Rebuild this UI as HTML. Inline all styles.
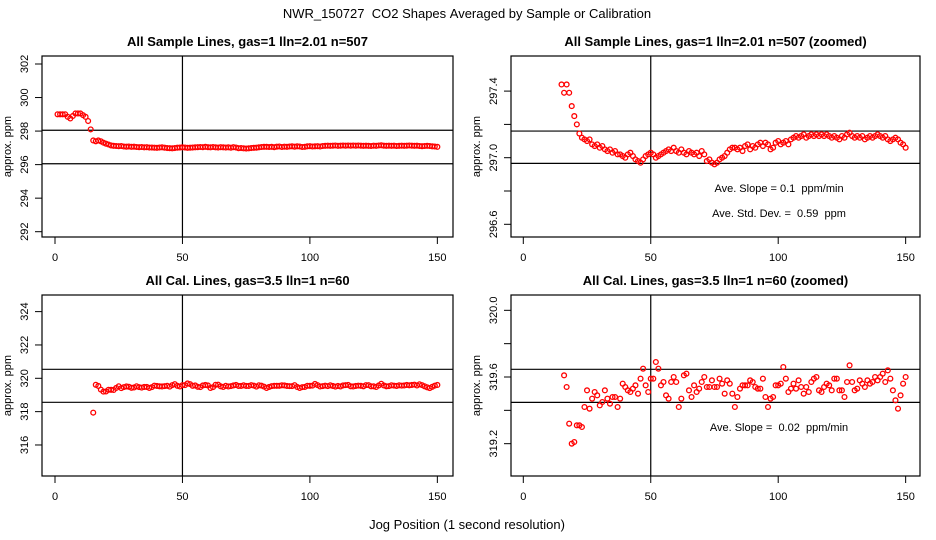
<!DOCTYPE html>
<html><head><meta charset="utf-8"><style>
body{margin:0;background:#fff}
svg{display:block;font-family:"Liberation Sans",sans-serif}
</style></head><body>
<svg id="c" width="936" height="540" viewBox="0 0 936 540"></svg>
<script>
const sampleStartX=[1,2,3,4,5,6,7,8,9,10,11,12,13,14];
const sampleStartVals=[299.0,299.0,299.0,299.0,298.85,298.75,298.9,299.05,299.05,299.05,298.95,298.85,298.6,298.1];
const sampleFirstX=15;
const sampleVals=[297.44,297.39,297.44,297.39,297.31,297.25,297.20,297.145,297.12,297.11,297.10,297.11,297.08,297.07,297.08,297.06,297.07,297.05,297.04,297.05,297.03,297.04,297.02,297.02,297.01,297.00,297.02,297.03,297.01,296.99,296.98,296.97,296.99,297.01,297.02,297.03,297.02,297.00,297.01,297.02,297.03,297.04,297.05,297.04,297.06,297.04,297.03,297.05,297.03,297.02,297.04,297.03,297.02,297.03,297.01,297.04,297.02,296.98,296.99,296.97,296.96,296.97,296.99,297.00,297.01,297.03,297.05,297.06,297.06,297.05,297.06,297.04,297.07,297.08,297.05,297.07,297.06,297.08,297.09,297.07,297.09,297.08,297.05,297.06,297.09,297.10,297.08,297.09,297.10,297.08,297.11,297.12,297.13,297.12,297.13,297.14,297.12,297.13,297.14,297.13,297.14,297.13,297.14,297.13,297.14,297.13,297.12,297.13,297.12,297.11,297.13,297.12,297.14,297.15,297.13,297.12,297.13,297.12,297.13,297.11,297.12,297.13,297.12,297.13,297.14,297.13,297.12,297.13,297.11,297.10,297.11,297.12,297.11,297.09,297.08,297.06];
const calStartX=[15];
const calStartVals=[317.94];
const calFirstX=16;
const calVals=[319.61,319.54,319.32,319.20,319.21,319.31,319.31,319.30,319.42,319.52,319.41,319.47,319.51,319.49,319.43,319.45,319.52,319.47,319.44,319.48,319.48,319.42,319.47,319.56,319.54,319.52,319.51,319.53,319.55,319.50,319.59,319.65,319.55,319.51,319.59,319.59,319.69,319.65,319.55,319.57,319.49,319.47,319.57,319.60,319.57,319.42,319.47,319.61,319.62,319.52,319.48,319.55,319.51,319.53,319.57,319.60,319.54,319.54,319.58,319.54,319.54,319.59,319.56,319.50,319.58,319.56,319.50,319.42,319.48,319.53,319.55,319.55,319.55,319.58,319.57,319.54,319.53,319.53,319.59,319.48,319.42,319.47,319.48,319.55,319.55,319.56,319.66,319.59,319.51,319.53,319.56,319.53,319.58,319.54,319.50,319.54,319.51,319.57,319.59,319.60,319.52,319.51,319.54,319.56,319.55,319.52,319.59,319.59,319.52,319.52,319.48,319.57,319.67,319.57,319.52,319.53,319.58,319.56,319.54,319.58,319.56,319.57,319.60,319.58,319.60,319.62,319.57,319.64,319.59,319.52,319.46,319.41,319.49,319.56,319.60];
const xTicks=[0,50,100,150];
const ticksTL=[292,294,296,298,300,302], labTL=["292","294","296","298","300","302"];
const ticksTR=[296.6,296.8,297.0,297.2,297.4], labTR=["296.6","","297.0","","297.4"];
const ticksBL=[316,318,320,322,324], labBL=["316","318","320","322","324"];
const ticksBR=[319.2,319.4,319.6,319.8,320.0], labBR=["319.2","","319.6","","320.0"];
const hTL=[298.05,296.05], hTR=[297.16,296.966], hBL=[320.54,318.56], hBR=[319.646,319.448];

const NS="http://www.w3.org/2000/svg", svg=document.getElementById('c');
function mk(tag,at,parent,txt){const e=document.createElementNS(NS,tag);for(const k in at)e.setAttribute(k,at[k]);if(txt!==undefined)e.textContent=txt;(parent||svg).appendChild(e);return e;}

function panel(o){
  const g=mk('g',{});
  
  
  const xs=v=>o.x0+(v)*2.549;
  const ys=v=>o.yRefPx-(v-o.yRef)*o.ppx;
  const t=mk('text',{x:(o.bx1+o.bx2)/2,y:o.by1-10,'text-anchor':'middle','font-size':'13','font-weight':'bold'},g,o.title);
  
  
  const box=mk('rect',{x:o.bx1,y:o.by1,width:o.bx2-o.bx1,height:o.by2-o.by1,fill:'none',stroke:'#000','stroke-width':1.2},g);
  
  
  o.h.forEach(v=>{const l=mk('line',{x1:o.bx1,x2:o.bx2,y1:ys(v),y2:ys(v),stroke:'#000','stroke-width':1.2},g);
    
    });
  const vl=mk('line',{x1:xs(50),x2:xs(50),y1:o.by1,y2:o.by2,stroke:'#000','stroke-width':1.2},g);
  
  
  xTicks.forEach(v=>{mk('line',{x1:xs(v),x2:xs(v),y1:o.by2,y2:o.by2+7,stroke:'#000'},g);
    const tl=mk('text',{x:xs(v),y:o.by2+24,'text-anchor':'middle','font-size':'11'},g,String(v));
    
    });
  o.yt.forEach((v,i)=>{mk('line',{x1:o.bx1-7,x2:o.bx1,y1:ys(v),y2:ys(v),stroke:'#000'},g);
    if(o.yl[i]){const tl=mk('text',{x:0,y:0,'text-anchor':'middle','font-size':'11',transform:`translate(${o.bx1-14},${ys(v)}) rotate(-90)`},g,o.yl[i]);
    
    }});
  if(o.ylab){const yl=mk('text',{x:0,y:0,'text-anchor':'middle','font-size':'11',transform:`translate(${o.bx1-31},${(o.by1+o.by2)/2}) rotate(-90)`},g,'approx. ppm');
    
    }
  const pts=[];
  o.sx.forEach((x,i)=>pts.push([x,o.sv[i]]));
  o.vals.forEach((v,i)=>pts.push([o.first+i,v]));
  pts.forEach(p=>{const y=ys(p[1]);if(y<o.by1||y>o.by2)return;
    const c=mk('circle',{cx:xs(p[0]),cy:y,r:2.4,fill:'none',stroke:'#f00','stroke-width':1.3},g);
    
    });
  (o.notes||[]).forEach(n=>{const a=mk('text',{x:779,y:n[1],'text-anchor':'middle','font-size':'11'},g,n[0]);
    
    });
}
const xml=s=>s.replace(/ /g,'\u00a0');
const tt=mk('text',{x:467,y:18,'text-anchor':'middle','font-size':'13'},svg,xml('NWR_150727  CO2 Shapes Averaged by Sample or Calibration'));


const xt=mk('text',{x:467,y:529,'text-anchor':'middle','font-size':'13'},svg,'Jog Position (1 second resolution)');


panel({name:'panel-sample-lines',title:'All Sample Lines, gas=1 lln=2.01 n=507',bx1:42,bx2:453,by1:56,by2:237,x0:55,yRef:302,yRefPx:64,ppx:16.77,yt:ticksTL,yl:labTL,h:hTL,sx:sampleStartX,sv:sampleStartVals,first:sampleFirstX,vals:sampleVals,ylab:true});
panel({name:'panel-sample-lines-zoomed',title:'All Sample Lines, gas=1 lln=2.01 n=507 (zoomed)',bx1:511,bx2:920,by1:56,by2:237,x0:523.3,yRef:297.0,yRefPx:157.7,ppx:166.5,yt:ticksTR,yl:labTR,h:hTR,sx:[],sv:[],first:sampleFirstX,vals:sampleVals,ylab:true,notes:[[xml('Ave. Slope = 0.1  ppm/min'),192],[xml('Ave. Std. Dev. =  0.59  ppm'),217]]});
panel({name:'panel-cal-lines',title:'All Cal. Lines, gas=3.5 lln=1 n=60',bx1:42,bx2:453,by1:295,by2:476,x0:55,yRef:320,yRefPx:378.3,ppx:16.67,yt:ticksBL,yl:labBL,h:hBL,sx:calStartX,sv:calStartVals,first:calFirstX,vals:calVals,ylab:true});
panel({name:'panel-cal-lines-zoomed',title:'All Cal. Lines, gas=3.5 lln=1 n=60 (zoomed)',bx1:511,bx2:920,by1:295,by2:476,x0:523.3,yRef:319.6,yRefPx:377,ppx:166.7,yt:ticksBR,yl:labBR,h:hBR,sx:[],sv:[],first:calFirstX,vals:calVals,ylab:true,notes:[[xml('Ave. Slope =  0.02  ppm/min'),431]]});
</script>
</body></html>
